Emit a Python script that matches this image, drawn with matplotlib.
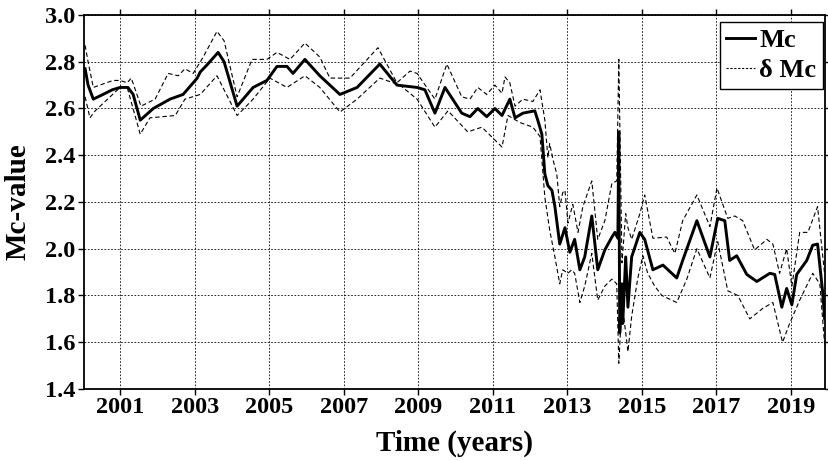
import matplotlib
matplotlib.use('Agg')
import matplotlib.pyplot as plt
import numpy as np

# Mc-value time series
t_mc = [2000.06, 2000.14, 2000.28, 2000.54, 2000.79, 2001.0, 2001.21, 2001.35, 2001.54, 2001.89,
        2002.34, 2002.69, 2003.07, 2003.15, 2003.33, 2003.63, 2003.79, 2004.14, 2004.57, 2004.94,
        2005.21, 2005.48, 2005.64, 2005.96, 2006.36, 2006.90, 2007.36, 2007.97, 2008.43, 2008.97,
        2009.18, 2009.45, 2009.72, 2010.17, 2010.39, 2010.60, 2010.84, 2011.06, 2011.25, 2011.46,
        2011.60, 2011.81, 2012.13, 2012.21, 2012.32, 2012.40, 2012.48, 2012.59, 2012.67, 2012.80,
        2012.94, 2013.07, 2013.20, 2013.34, 2013.47, 2013.66, 2013.82, 2014.01, 2014.20, 2014.28,
        2014.36, 2014.385, 2014.41, 2014.47, 2014.49, 2014.57, 2014.63, 2014.73, 2014.95, 2015.08,
        2015.30, 2015.57, 2015.94, 2016.10, 2016.48, 2016.83, 2017.04, 2017.23, 2017.36, 2017.55,
        2017.82, 2018.09, 2018.44, 2018.57, 2018.76, 2018.89, 2019.03, 2019.16, 2019.43, 2019.59,
        2019.72, 2019.86, 2019.91]
mc = [2.77, 2.70, 2.64, 2.66, 2.68, 2.69, 2.69, 2.66, 2.55, 2.60,
      2.64, 2.66, 2.73, 2.756, 2.786, 2.84, 2.80, 2.61, 2.69, 2.72,
      2.78, 2.78, 2.75, 2.81, 2.74, 2.66, 2.69, 2.79, 2.70, 2.69,
      2.68, 2.58, 2.69, 2.58, 2.565, 2.60, 2.565, 2.60, 2.57, 2.64,
      2.56, 2.58, 2.59, 2.55, 2.49, 2.32, 2.27, 2.25, 2.18, 2.02,
      2.09, 1.985, 2.04, 1.91, 1.965, 2.14, 1.91, 1.995, 2.05, 2.07,
      2.045, 2.50, 1.64, 1.85, 1.68, 1.965, 1.75, 1.965, 2.07, 2.04,
      1.91, 1.93, 1.875, 1.95, 2.12, 1.965, 2.13, 2.12, 1.95, 1.97,
      1.89, 1.86, 1.895, 1.89, 1.75, 1.83, 1.76, 1.89, 1.95, 2.015,
      2.02, 1.81, 1.70]

# upper bound (Mc + dMc)
t_up = [2000.06, 2000.14, 2000.28, 2000.81, 2001.0, 2001.19, 2001.30, 2001.56, 2001.94, 2002.29,
        2002.56, 2002.74, 2002.96, 2003.23, 2003.60, 2003.79, 2004.14, 2004.54, 2004.94, 2005.21,
        2005.56, 2005.96, 2006.36, 2006.63, 2007.17, 2007.92, 2008.43, 2008.78, 2008.97, 2009.45,
        2009.77, 2010.17, 2010.39, 2010.60, 2010.84, 2011.06, 2011.25, 2011.33, 2011.46, 2011.60,
        2011.81, 2012.08, 2012.27, 2012.40, 2012.48, 2012.53, 2012.62, 2012.72, 2012.80, 2012.88,
        2012.94, 2013.02, 2013.15, 2013.29, 2013.42, 2013.66, 2013.82, 2014.01, 2014.20, 2014.33,
        2014.385, 2014.47, 2014.57, 2014.63, 2014.73, 2014.95, 2015.08, 2015.30, 2015.67, 2015.89,
        2016.10, 2016.48, 2016.83, 2017.02, 2017.31, 2017.50, 2017.71, 2018.03, 2018.36, 2018.52,
        2018.70, 2018.89, 2019.03, 2019.24, 2019.46, 2019.72, 2019.91]
mc_up = [2.87, 2.80, 2.69, 2.72, 2.72, 2.71, 2.73, 2.61, 2.64, 2.75,
         2.74, 2.77, 2.75, 2.82, 2.93, 2.89, 2.65, 2.81, 2.81, 2.84,
         2.81, 2.88, 2.82, 2.73, 2.73, 2.86, 2.71, 2.76, 2.75, 2.64,
         2.79, 2.65, 2.64, 2.69, 2.66, 2.70, 2.665, 2.735, 2.71, 2.61,
         2.64, 2.63, 2.68, 2.55, 2.39, 2.45, 2.38, 2.32, 2.18, 2.24,
         2.25, 2.11, 2.19, 2.07, 2.18, 2.29, 2.04, 2.12, 2.28, 2.29,
         2.81, 1.94, 2.15, 2.09, 2.04, 2.15, 2.23, 2.045, 2.05, 1.98,
         2.12, 2.23, 2.095, 2.26, 2.13, 2.14, 2.12, 1.995, 2.04, 2.02,
         1.895, 2.00, 1.84, 2.07, 2.07, 2.18, 1.89]

# lower bound (Mc - dMc)
t_lo = [2000.06, 2000.19, 2000.33, 2001.0, 2001.19, 2001.54, 2001.80, 2002.48, 2002.74, 2003.15,
        2003.60, 2004.14, 2004.57, 2005.02, 2005.48, 2005.96, 2006.36, 2006.90, 2007.36, 2007.97,
        2008.51, 2008.97, 2009.45, 2009.80, 2010.33, 2010.71, 2011.25, 2011.41, 2011.73, 2012.08,
        2012.27, 2012.40, 2012.53, 2012.67, 2012.80, 2012.88, 2013.02, 2013.12, 2013.20, 2013.34,
        2013.47, 2013.66, 2013.82, 2014.01, 2014.20, 2014.33, 2014.385, 2014.47, 2014.57, 2014.63,
        2014.73, 2014.89, 2015.03, 2015.16, 2015.35, 2015.54, 2015.94, 2016.21, 2016.48, 2016.83,
        2017.04, 2017.31, 2017.58, 2017.90, 2018.25, 2018.52, 2018.78, 2018.97, 2019.24, 2019.59,
        2019.78, 2019.91]
mc_lo = [2.65, 2.56, 2.59, 2.69, 2.69, 2.49, 2.56, 2.57, 2.64, 2.66,
         2.74, 2.57, 2.64, 2.73, 2.69, 2.74, 2.69, 2.585, 2.64, 2.73,
         2.70, 2.64, 2.52, 2.59, 2.50, 2.52, 2.435, 2.57, 2.54, 2.52,
         2.48, 2.22, 2.08, 1.965, 1.85, 1.91, 1.895, 1.91, 1.895, 1.77,
         1.84, 1.98, 1.78, 1.84, 1.87, 1.85, 1.51, 1.77, 1.64, 1.56,
         1.71, 1.87, 1.97, 1.895, 1.84, 1.80, 1.77, 1.87, 2.00, 1.875,
         2.03, 1.82, 1.80, 1.70, 1.745, 1.77, 1.60, 1.68, 1.78, 1.895,
         1.85, 1.59]

xticks = list(range(2001, 2020, 2))
yticks = [1.4, 1.6, 1.8, 2.0, 2.2, 2.4, 2.6, 2.8, 3.0]

plt.rcParams['font.family'] = ['Liberation Serif', 'DejaVu Serif']
plt.rcParams['font.weight'] = 'bold'

fig = plt.figure(figsize=(8.29, 4.61), dpi=100)
ax = fig.add_subplot(111)
fig.subplots_adjust(left=0.1013, right=0.9952, bottom=0.1562, top=0.9675)

ax.plot(t_mc, mc, color='black', lw=2.1, label='Mc', zorder=3)
ax.plot(t_up, mc_up, color='black', lw=0.8, ls=(0, (4, 2.5)), zorder=2)
ax.plot(t_lo, mc_lo, color='black', lw=0.8, ls=(0, (4, 2.5)), zorder=2)

ax.set_xlim(2000.03, 2019.92)
ax.set_ylim(1.4, 3.0)
ax.set_xticks(xticks)
ax.set_yticks(yticks)
ax.set_yticklabels(['%.1f' % v for v in yticks])
ax.grid(True, color='black', lw=0.6, ls=(0, (2, 2)))
ax.tick_params(direction='out', length=4, width=1, labelsize=17.5, pad=2,
               top=True, right=True)
for lab in ax.get_xticklabels() + ax.get_yticklabels():
    lab.set_fontweight('bold')
for s in ax.spines.values():
    s.set_linewidth(1.3)

ax.set_xlabel('Time (years)', fontsize=21, fontweight='bold', labelpad=8)
ax.set_ylabel('Mc-value', fontsize=21, fontweight='bold', labelpad=10)

h_mc = plt.Line2D([], [], color='black', lw=2.1)
h_d = plt.Line2D([], [], color='black', lw=0.8, ls=(0, (2, 1.5)))
leg = ax.legend([h_mc, h_d], ['Mc', '\u03b4 Mc'], loc='upper right',
                bbox_to_anchor=(0.997, 0.981),
                prop={'weight': 'bold', 'size': 19}, frameon=True, fancybox=False,
                edgecolor='black', framealpha=1, handlelength=1.1, handletextpad=0.15,
                borderpad=0.25, labelspacing=0.25, borderaxespad=0.0)
leg.get_frame().set_linewidth(1.0)

plt.savefig('out.png', dpi=100)
